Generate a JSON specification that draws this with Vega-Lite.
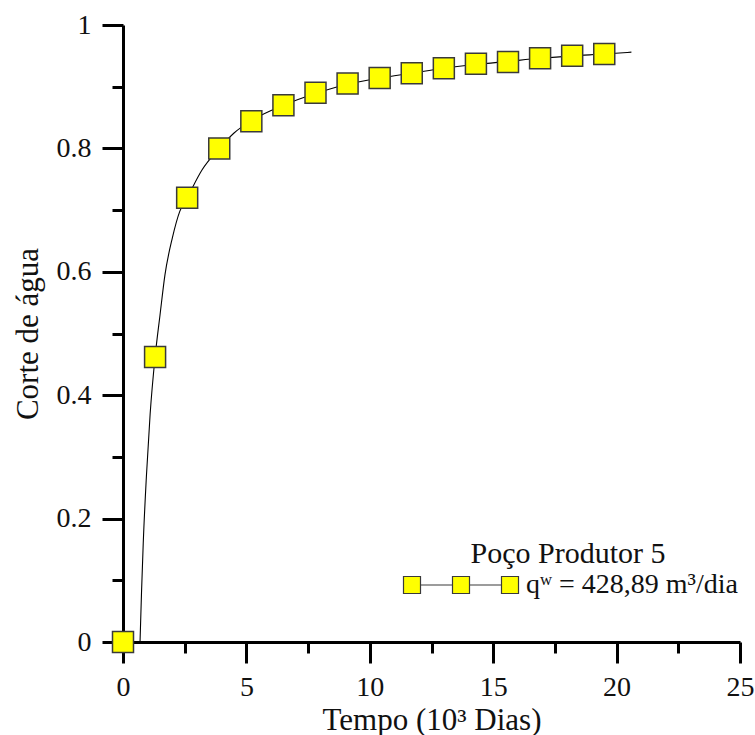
{
  "$schema": "https://vega.github.io/schema/vega-lite/v6.json",
  "width": 617,
  "height": 617,
  "autosize": {"type": "none"},
  "padding": {"left": 123, "top": 25, "right": 15, "bottom": 93},
  "background": "white",
  "config": {
    "view": {"stroke": null},
    "font": "Liberation Serif, Times New Roman, serif",
    "text": {"font": "Liberation Serif, Times New Roman, serif"},
    "axis": {
      "labelFont": "Liberation Serif, Times New Roman, serif",
      "titleFont": "Liberation Serif, Times New Roman, serif",
      "labelColor": "#111",
      "titleColor": "#111",
      "domainColor": "#000",
      "tickColor": "#000",
      "domainWidth": 3,
      "tickWidth": 3,
      "grid": false,
      "titleFontWeight": "normal"
    },
    "legend": {
      "labelFont": "Liberation Serif, Times New Roman, serif",
      "titleFont": "Liberation Serif, Times New Roman, serif"
    }
  },
  "datasets": {
    "curve": [
      {"t": 0.69, "f": 0.0},
      {"t": 0.75, "f": 0.08},
      {"t": 0.82, "f": 0.16},
      {"t": 0.95, "f": 0.27},
      {"t": 1.1, "f": 0.37},
      {"t": 1.3, "f": 0.462},
      {"t": 1.5, "f": 0.53},
      {"t": 1.7, "f": 0.595},
      {"t": 2.0, "f": 0.655},
      {"t": 2.3, "f": 0.698},
      {"t": 2.6, "f": 0.72},
      {"t": 3.2, "f": 0.765},
      {"t": 3.9, "f": 0.80},
      {"t": 4.5, "f": 0.825},
      {"t": 5.2, "f": 0.845},
      {"t": 6.5, "f": 0.87},
      {"t": 7.8, "f": 0.889},
      {"t": 9.1, "f": 0.904},
      {"t": 10.4, "f": 0.914},
      {"t": 11.7, "f": 0.922},
      {"t": 13.0, "f": 0.93},
      {"t": 14.3, "f": 0.936},
      {"t": 15.6, "f": 0.941},
      {"t": 16.9, "f": 0.946},
      {"t": 18.2, "f": 0.95},
      {"t": 19.5, "f": 0.953},
      {"t": 20.6, "f": 0.956}
    ],
    "markers": [
      {"t": 0.0, "f": 0.0, "series": "qʷ = 428,89 m³/dia"},
      {"t": 1.3, "f": 0.462, "series": "qʷ = 428,89 m³/dia"},
      {"t": 2.6, "f": 0.72, "series": "qʷ = 428,89 m³/dia"},
      {"t": 3.9, "f": 0.80, "series": "qʷ = 428,89 m³/dia"},
      {"t": 5.2, "f": 0.844, "series": "qʷ = 428,89 m³/dia"},
      {"t": 6.5, "f": 0.87, "series": "qʷ = 428,89 m³/dia"},
      {"t": 7.8, "f": 0.89, "series": "qʷ = 428,89 m³/dia"},
      {"t": 9.1, "f": 0.905, "series": "qʷ = 428,89 m³/dia"},
      {"t": 10.4, "f": 0.914, "series": "qʷ = 428,89 m³/dia"},
      {"t": 11.7, "f": 0.922, "series": "qʷ = 428,89 m³/dia"},
      {"t": 13.0, "f": 0.930, "series": "qʷ = 428,89 m³/dia"},
      {"t": 14.3, "f": 0.937, "series": "qʷ = 428,89 m³/dia"},
      {"t": 15.6, "f": 0.940, "series": "qʷ = 428,89 m³/dia"},
      {"t": 16.9, "f": 0.946, "series": "qʷ = 428,89 m³/dia"},
      {"t": 18.2, "f": 0.950, "series": "qʷ = 428,89 m³/dia"},
      {"t": 19.5, "f": 0.953, "series": "qʷ = 428,89 m³/dia"}
    ]
  },
  "layer": [
    {
      "data": {"name": "curve"},
      "mark": {"type": "line", "color": "#000", "strokeWidth": 1.1, "interpolate": "monotone"},
      "encoding": {
        "x": {
          "field": "t", "type": "quantitative",
          "scale": {"domain": [0, 25], "nice": false, "zero": false},
          "axis": {
            "orient": "bottom",
            "values": [0, 5, 10, 15, 20, 25],
            "format": "d",
            "tickSize": 21,
            "labelPadding": 10,
            "labelFontSize": 28,
            "labelFlush": false,
            "title": "Tempo (10³ Dias)",
            "titleFontSize": 31,
            "titleBaseline": "alphabetic",
            "titleY": 87
          }
        },
        "y": {
          "field": "f", "type": "quantitative",
          "scale": {"domain": [0, 1], "nice": false},
          "axis": {
            "orient": "left",
            "values": [0, 0.2, 0.4, 0.6, 0.8, 1],
            "format": "~g",
            "tickSize": 21,
            "labelPadding": 11,
            "labelFontSize": 28,
            "labelFlush": false,
            "title": "Corte de água",
            "titleFontSize": 31,
            "titleBaseline": "alphabetic",
            "titleX": -86
          }
        }
      }
    },
    {
      "data": {"name": "markers"},
      "mark": {"type": "square", "size": 441, "stroke": "#3a3a3a", "strokeWidth": 1.5, "opacity": 1, "fillOpacity": 1},
      "encoding": {
        "x": {
          "field": "t", "type": "quantitative",
          "axis": {
            "orient": "bottom",
            "values": [2.5, 7.5, 12.5, 17.5, 22.5],
            "tickSize": 11,
            "labels": false,
            "domain": false,
            "title": null
          }
        },
        "y": {
          "field": "f", "type": "quantitative",
          "axis": {
            "orient": "left",
            "values": [0.1, 0.3, 0.5, 0.7, 0.9],
            "tickSize": 11,
            "labels": false,
            "domain": false,
            "title": null
          }
        },
        "fill": {
          "field": "series", "type": "nominal",
          "scale": {"range": ["#ffff00"]},
          "legend": {
            "orient": "none",
            "legendX": 275,
            "legendY": 514,
            "title": "Poço Produtor 5",
            "titleFontSize": 30,
            "titleFontWeight": "normal",
            "titleColor": "#111",
            "titleAnchor": "middle",
            "titleAlign": "center",
            "titlePadding": 2,
            "titleLimit": 0,
            "labelFontSize": 28,
            "labelColor": "#111",
            "labelOffset": 100,
            "labelLimit": 0,
            "symbolSize": 289,
            "symbolType": "M-1,-1H1V1H-1Z M1,0H4.765 M4.765,-1H6.765V1H4.765Z M6.765,0H10.53 M10.53,-1H12.53V1H10.53Z",
            "symbolStrokeColor": "#3a3a3a",
            "symbolStrokeWidth": 1.2,
            "symbolFillColor": "#ffff00",
            "symbolOpacity": 1
          }
        }
      }
    }
  ],
  "resolve": {"axis": {"x": "independent", "y": "independent"}}
}
